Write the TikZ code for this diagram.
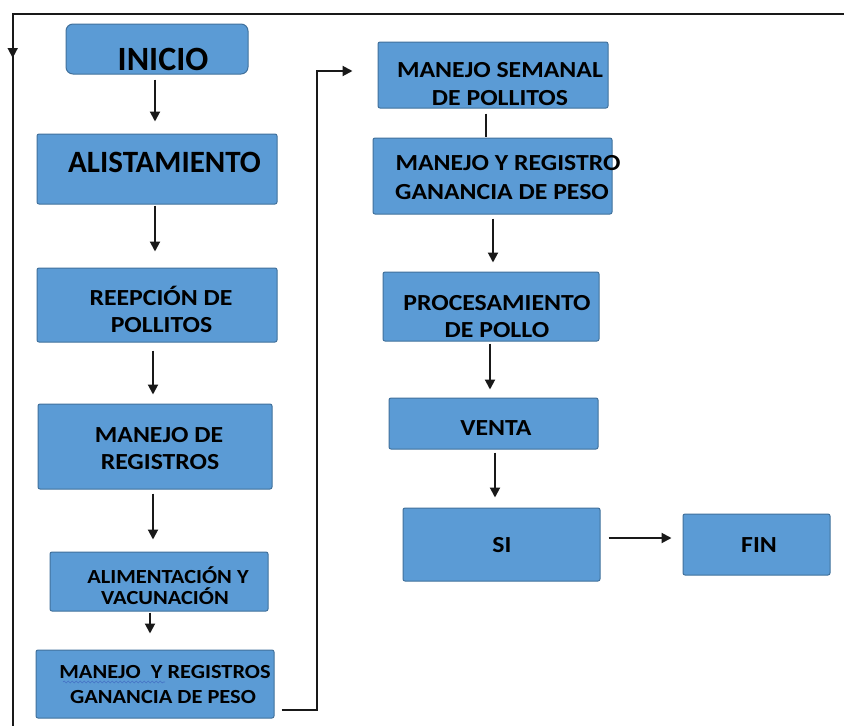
\documentclass[tikz,border=0pt]{standalone}
\usepackage{graphicx}
\usepackage{fontspec}
\setmainfont{Carlito}
\usetikzlibrary{arrows.meta,decorations.pathmorphing}
\definecolor{boxfill}{HTML}{5B9BD5}
\definecolor{boxline}{HTML}{41719C}
\definecolor{spell}{HTML}{4472C4}
\newcommand\Wd[1]{\scalebox{1.12}[1]{#1}}
\begin{document}
\begin{tikzpicture}[x=1pt,y=-1pt,
  box/.style={draw=boxline,fill=boxfill,line width=1pt,rounded corners=2pt,inner sep=0pt},
  txt/.style={anchor=base,inner sep=0pt,font=\bfseries\fontsize{23}{28}\selectfont},
  txts/.style={anchor=base,inner sep=0pt,font=\bfseries\fontsize{20}{24}\selectfont},
  conn/.style={line width=2pt,draw=black!90},
  arr/.style={conn,-{Triangle[width=10pt,length=10pt]}}]
\useasboundingbox (0,0) rectangle (844,726);
\fill[white] (0,0) rectangle (844,726);
% boxes
\node[box,rounded corners=7pt,minimum width=182pt,minimum height=50pt] (inicio) at (157,49) {};
\node[box,minimum width=240pt,minimum height=70pt] (alist) at (157,169) {};
\node[box,minimum width=240pt,minimum height=74pt] (reep) at (157,305) {};
\node[box,minimum width=234pt,minimum height=85pt] (mreg) at (155,446.5) {};
\node[box,minimum width=218pt,minimum height=59pt] (alim) at (159,581.5) {};
\node[box,minimum width=238pt,minimum height=68pt] (myrg) at (155,684) {};
\node[box,minimum width=230pt,minimum height=66pt] (msem) at (493,75) {};
\node[box,minimum width=239pt,minimum height=76pt] (myr) at (492.5,176) {};
\node[box,minimum width=216pt,minimum height=69pt] (proc) at (491,306.5) {};
\node[box,minimum width=209pt,minimum height=51pt] (venta) at (493.5,423.5) {};
\node[box,minimum width=197pt,minimum height=73pt] (si) at (501.5,544.5) {};
\node[box,minimum width=147pt,minimum height=61pt] (fin) at (756.5,544.5) {};
% texts
\node[txt,font=\bfseries\fontsize{34}{40}\selectfont] (t1) at (163,70) {INICIO};
\node[txt,font=\bfseries\fontsize{31}{36}\selectfont] (t2) at (164.5,172) {ALISTAMIENTO};
\node[txt] (t3a) at (161,305) {\Wd{REEPCIÓN DE}};
\node[txt] (t3b) at (161.5,332) {\Wd{POLLITOS}};
\node[txt] (t4a) at (159,442) {\Wd{MANEJO DE}};
\node[txt] (t4b) at (160,469) {\Wd{REGISTROS}};
\node[txts] (t5a) at (168,583) {\Wd{ALIMENTACIÓN Y}};
\node[txts] (t5b) at (165,604) {\Wd{VACUNACIÓN}};
\node[txts] (t6a) at (165,678) {\Wd{MANEJO\ \ Y REGISTROS}};
\node[txts] (t6b) at (163,703) {\Wd{GANANCIA DE PESO}};
\node[txt] (t7a) at (500,77) {\Wd{MANEJO SEMANAL}};
\node[txt] (t7b) at (500,105) {\Wd{DE POLLITOS}};
\node[txt] (t8a) at (508,170) {\Wd{MANEJO Y REGISTRO}};
\node[txt] (t8b) at (502,199) {\Wd{GANANCIA DE PESO}};
\node[txt] (t9a) at (497,310) {\Wd{PROCESAMIENTO}};
\node[txt] (t9b) at (497,337) {\Wd{DE POLLO}};
\node[txt] (t10) at (496,435) {\Wd{VENTA}};
\node[txt] (t11) at (502,552) {\Wd{SI}};
\node[txt] (t12) at (759,552) {\Wd{FIN}};
% spell-check underline
\draw[spell,line width=0.6pt,decorate,decoration={snake,amplitude=1pt,segment length=4pt}] (63,682) -- (165,682);
% connectors
\draw[arr,shorten <=5pt,shorten >=12pt] (inicio.south -| 155,0) -- (alist.north -| 155,0);
\draw[arr,shorten <=1pt,shorten >=16pt] (alist.south -| 155,0) -- (reep.north -| 155,0);
\draw[arr,shorten <=8pt,shorten >=9pt] (reep.south -| 153,0) -- (mreg.north -| 153,0);
\draw[arr,shorten <=4pt,shorten >=12pt] (mreg.south -| 153,0) -- (alim.north -| 153,0);
\draw[arr,shorten <=1pt,shorten >=16pt] (alim.south -| 150,0) -- (myrg.north -| 150,0);
\coordinate (bend) at (317,71);
\draw[arr,shorten <=7pt,shorten >=25pt] (myrg.east |- 0,710) -| (bend) -- (msem.west |- bend);
\draw[conn,shorten <=5pt,shorten >=1pt] (msem.south -| 486,0) -- (myr.north -| 486,0);
\draw[arr,shorten <=4pt,shorten >=9pt] (myr.south -| 493,0) -- (proc.north -| 493,0);
\draw[arr,shorten <=2pt,shorten >=8pt] (proc.south -| 490,0) -- (venta.north -| 490,0);
\draw[arr,shorten <=3pt,shorten >=10pt] (venta.south -| 495,0) -- (si.north -| 495,0);
\draw[arr,shorten <=8pt,shorten >=11pt] (si.east |- 0,538) -- (fin.west |- 0,538);
% loop line
\coordinate (lr) at (844,14);
\coordinate (lc) at (12.7,14);
\coordinate (lb) at (12.7,726);
\coordinate (lm) at (12.7,58);
\draw[conn,line width=1.6pt] (lr) -- (lc) -- (lb);
\draw[arr,line width=1.6pt] (lc) -- (lm);
\end{tikzpicture}
\end{document}
